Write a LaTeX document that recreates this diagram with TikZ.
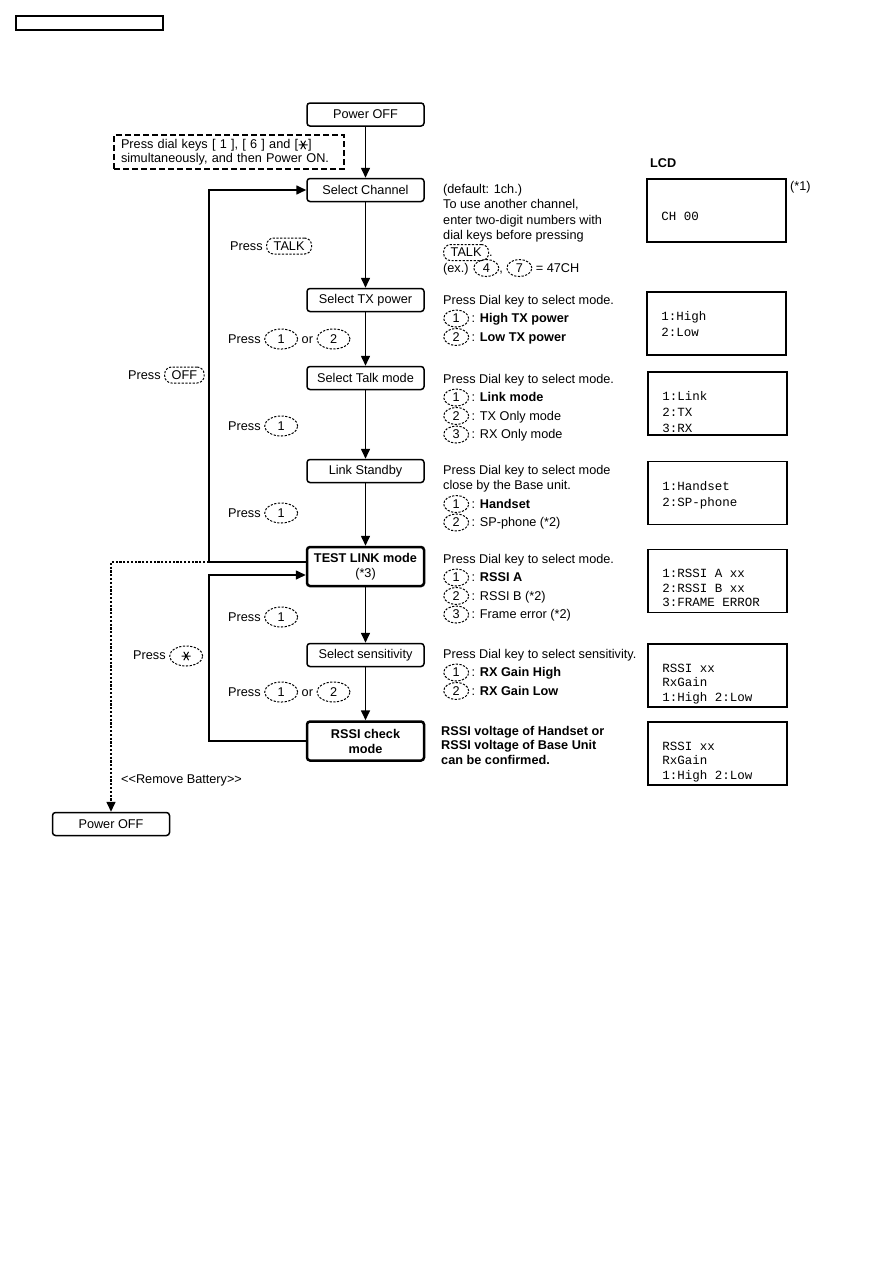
\documentclass[tikz,border=0pt]{standalone}
\usepackage{fontspec}
\setmainfont{Liberation Sans}
\setmonofont{Liberation Mono}
\usetikzlibrary{arrows.meta, positioning, shapes.geometric}
\newcommand{\tightlines}{\lineskiplimit=-30pt\relax}
\tikzset{
  state/.style={rectangle,draw,rounded corners=3pt,line width=1.5pt,minimum width=117pt,minimum height=23pt,inner sep=2pt},
  keystate/.style={state,line width=2.5pt,minimum height=39pt,align=center,font={\bfseries\fontsize{12.7}{15}\selectfont}},
  lcd/.style={rectangle,draw,line width=1.8pt,minimum width=139pt,minimum height=63pt,inner sep=0pt},
  lcdtext/.style={anchor=north west,align=left,inner sep=0pt,font={\ttfamily\fontsize{12.5}{14.5}\selectfont\tightlines}},
  note/.style={anchor=north west,align=left,inner sep=0pt},
  lbl/.style={anchor=west,inner sep=0pt},
  keyline/.style={draw,solid,line width=1pt,dash pattern=on 2.2pt off 1.5pt,anchor=center,align=center},
  keyoval/.style={keyline,ellipse,inner sep=0pt,minimum height=20pt,minimum width=33pt},
  keysmall/.style={minimum height=17pt,minimum width=25pt},
  keyword/.style={keyline,rectangle,rounded corners=7pt,inner xsep=7pt,inner ysep=0pt,minimum height=16pt,minimum width=0pt},
  line/.style={-{Triangle[length=10pt,width=9pt]},line width=1.6pt},
  dotline/.style={line,dash pattern=on 2.2pt off 1.6pt}
}
\newcommand{\dkey}[1]{\tikz[baseline=(k.base)]\node[keyoval](k){#1};}
\newcommand{\lkey}[1]{\tikz[baseline=(k.base)]\node[keyoval,keysmall](k){#1};}
\newcommand{\wkey}[1]{\tikz[baseline=(k.base)]\node[keyword](k){#1};}
\newcommand{\starsym}{\tikz[baseline=-3.6pt]\draw[solid,line width=1pt] (-4.5pt,0pt)--(4.5pt,0pt) (-2.4pt,-4.2pt)--(2.4pt,4.2pt) (-2.4pt,4.2pt)--(2.4pt,-4.2pt);}
\newcommand{\litem}[2]{\lkey{#1}\hspace{2.5pt}: #2}

\begin{document}
\begin{tikzpicture}[x=1pt,y=-1pt,font={\fontsize{12.7}{15.5}\selectfont\tightlines}]
\useasboundingbox (0,0) rectangle (893,1263);
\node[draw,line width=1.3pt,minimum width=147pt,minimum height=14pt,inner sep=0pt] (hdr) at (89.5,23) {};

\node[state] (offA) at (365.5,114.5) {Power OFF};
\node[state] (chan) at (365.5,190) {Select Channel};
\node[state] (txp) at (365.5,300) {Select TX power};
\node[state] (talk) at (365.5,378) {Select Talk mode};
\node[state] (stby) at (365.5,471) {Link Standby};
\node[keystate] (tlink) at (365.5,566.5) {TEST LINK mode\\\mdseries(*3)};
\node[state] (sens) at (365.5,655) {Select sensitivity};
\node[keystate] (rssi) at (365.5,741) {RSSI check\\mode};
\node[state] (offB) at (111,824) {Power OFF};

\node[draw,dash pattern=on 6pt off 3pt,line width=1.4pt,align=left,text width=216pt,inner xsep=7pt,minimum height=34pt,font={\fontsize{12.7}{13.5}\selectfont}] (cond) at (229,152)
  {Press dial keys [ 1 ], [ 6 ] and [\starsym]\\simultaneously, and then Power ON.};

\coordinate (loopA) at (209,562);
\draw[line] (offA) -- (chan);
\draw[line] (chan) -- (txp);
\draw[line] (txp) -- (talk);
\draw[line] (talk) -- (stby);
\draw[line] (stby) -- (tlink);
\draw[line] (tlink) -- (sens);
\draw[line] (sens) -- (rssi);
\draw[line] ([yshift=4.5pt]tlink.west) -- (loopA) |- (chan.west);
\draw[line] (rssi.west) -- (rssi.west -| loopA) |- ([yshift=-8.5pt]tlink.west);
\draw[dotline] (loopA) -- (loopA -| offB) -- (offB.north);

\node[lbl] (pTalk) at (230,246) {Press \wkey{TALK}};
\node[lbl] (pTx) at (228,339) {Press \dkey{1} or \dkey{2}};
\node[lbl] (pMode) at (228,426) {Press \dkey{1}};
\node[lbl] (pStby) at (228,513) {Press \dkey{1}};
\node[lbl] (pOff) at (128,375) {Press \wkey{OFF}};
\node[lbl] (pLink) at (228,617) {Press \dkey{1}};
\node[lbl] (pStar) at (133,656) {Press \dkey{\starsym}};
\node[lbl] (pSens) at (228,692) {Press \dkey{1} or \dkey{2}};
\node[lbl] (rmBat) at (121,780) {<{}<Remove Battery>{}>};

\node[note] (nChan) at (443,184) {(default: 1ch.)\\To use another channel,\\enter two-digit numbers with\\dial keys before pressing\\[1.5pt]\wkey{TALK}.\\(ex.) \lkey{4}, \lkey{7} = 47CH};
\node[note] (nTx) at (443,295) {Press Dial key to select mode.\\[3pt]\litem{1}{\textbf{High TX power}}\\[3pt]\litem{2}{\textbf{Low TX power}}};
\node[note] (nTalk) at (443,374) {Press Dial key to select mode.\\[3pt]\litem{1}{\textbf{Link mode}}\\[3pt]\litem{2}{TX Only mode}\\[3pt]\litem{3}{RX Only mode}};
\node[note] (nStby) at (443,465) {Press Dial key to select mode\\close by the Base unit.\\[3pt]\litem{1}{\textbf{Handset}}\\[3pt]\litem{2}{SP-phone (*2)}};
\node[note] (nLink) at (443,554) {Press Dial key to select mode.\\[3pt]\litem{1}{\textbf{RSSI A}}\\[3pt]\litem{2}{RSSI B (*2)}\\[3pt]\litem{3}{Frame error (*2)}};
\node[note] (nSens) at (443,649) {Press Dial key to select sensitivity.\\[3pt]\litem{1}{\textbf{RX Gain High}}\\[3pt]\litem{2}{\textbf{RX Gain Low}}};
\node[note,font={\bfseries\fontsize{12.7}{14.5}\selectfont\tightlines}] (nRssi) at (441,726) {RSSI voltage of Handset or\\RSSI voltage of Base Unit\\can be confirmed.};

\node[lbl,font={\bfseries\fontsize{12.7}{15}\selectfont}] (lcdHead) at (650,163) {LCD};
\node[lcd] (lcdA) at (716.5,210.5) {};
\node[lbl] (lcdNote) at (790,187) {(*1)};
\node[lcd] (lcdB) at (716.5,323.5) {};
\node[lcd] (lcdC) at (717.5,403.5) {};
\node[lcd] (lcdD) at (717.5,493) {};
\node[lcd] (lcdE) at (717.5,581) {};
\node[lcd] (lcdF) at (717.5,675.5) {};
\node[lcd] (lcdG) at (717.5,753.5) {};
\node[lcdtext] (tA) at ([shift={(15,34)}]lcdA.north west) {CH 00};
\node[lcdtext] (tB) at ([shift={(15,20.5)}]lcdB.north west) {1:High\\[1.3pt]2:Low};
\node[lcdtext] (tC) at ([shift={(15,20.5)}]lcdC.north west) {1:Link\\[1.3pt]2:TX\\[1.3pt]3:RX};
\node[lcdtext] (tD) at ([shift={(15,20.5)}]lcdD.north west) {1:Handset\\[1.3pt]2:SP-phone};
\node[lcdtext] (tE) at ([shift={(15,20.5)}]lcdE.north west) {1:RSSI A xx\\2:RSSI B xx\\3:FRAME ERROR};
\node[lcdtext] (tF) at ([shift={(15,20.5)}]lcdF.north west) {RSSI xx\\RxGain\\1:High 2:Low};
\node[lcdtext] (tG) at ([shift={(15,20.5)}]lcdG.north west) {RSSI xx\\RxGain\\1:High 2:Low};
\end{tikzpicture}
\end{document}
